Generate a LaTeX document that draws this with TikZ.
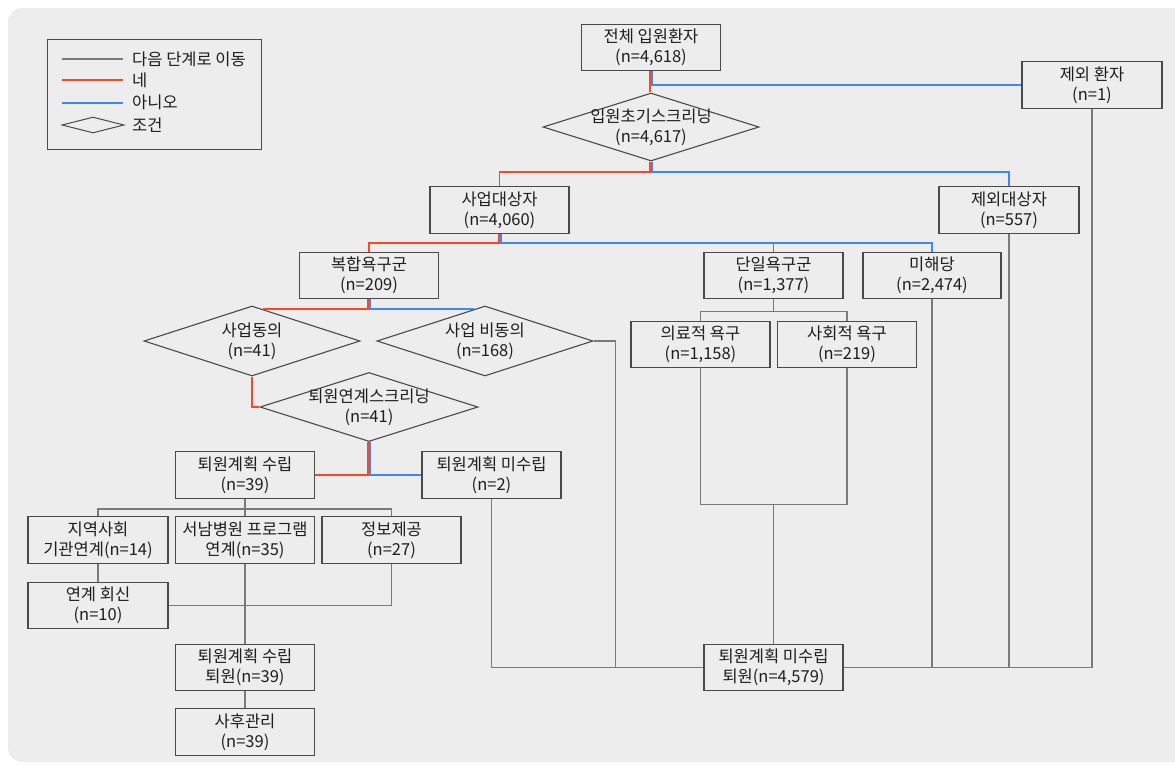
\documentclass[tikz,border=0pt]{standalone}
\usepackage{fontspec}
\setmainfont{Noto Sans CJK KR}
\usetikzlibrary{shapes.geometric,calc}
\definecolor{bg}{HTML}{EDEDED}
\definecolor{lred}{HTML}{FF4526}
\definecolor{lblue}{HTML}{3A88FF}
\definecolor{lgray}{HTML}{7A7A7A}
\definecolor{bord}{HTML}{4A4A4A}
\definecolor{txt}{HTML}{1E1E1E}
\begin{document}
\begin{tikzpicture}[x=1pt,y=-1pt,
  txtfont/.style={font=\fontsize{16.5}{20}\selectfont, text=txt},
  box/.style={draw=bord, line width=1.2pt, fill=bg, minimum width=139pt, minimum height=46.5pt, inner sep=0.5pt, align=center, txtfont},
  cond/.style={draw=bord, line width=1.1pt, fill=bg, diamond, inner sep=0pt, minimum width=216pt, minimum height=69pt},
  ctext/.style={align=center, txtfont, inner sep=0pt},
  gl/.style={draw=lgray, line width=1.4pt},
  rl/.style={draw=lred, line width=1.8pt},
  bl/.style={draw=lblue, line width=1.8pt}
]
\useasboundingbox (0,0) rectangle (1175,764);
\clip (0,0) rectangle (1175,764);
\fill[bg, rounded corners=14pt] (8,8) rectangle (1200,762);

% legend
\node[draw=bord, line width=1.1pt, minimum width=214pt, minimum height=110pt, inner sep=0pt, anchor=north west] (legend) at (47,39) {};
\draw[gl] (62,59) -- (123,59);
\draw[rl] (62,80) -- (123,80);
\draw[bl] (62,103) -- (123,103);
\node[diamond, draw=bord, line width=1pt, minimum width=62pt, minimum height=16pt, inner sep=0pt] (lgd) at (93,125) {};
\node[txtfont, anchor=west, inner sep=0pt] (lg1) at (132,59) {다음 단계로 이동};
\node[txtfont, anchor=west, inner sep=0pt] (lg2) at (132,80) {네};
\node[txtfont, anchor=west, inner sep=0pt] (lg3) at (132,102) {아니오};
\node[txtfont, anchor=west, inner sep=0pt] (lg4) at (132,125) {조건};

% nodes
\node[box] (total) at (651,47.5) {전체 입원환자\\(n=4,618)};
\node[box, minimum width=140pt] (excl1) at (1092,85) {제외 환자\\(n=1)};
\node[cond, minimum height=68pt, label={[ctext]center:{입원초기스크리닝\\(n=4,617)}}] (scr1) at (651,127) {};
\node[box] (biz) at (499.5,210) {사업대상자\\(n=4,060)};
\node[box, minimum width=140pt] (excl2) at (1009,210) {제외대상자\\(n=557)};
\node[box] (comp) at (369,275.5) {복합욕구군\\(n=209)};
\node[box] (single) at (773.5,275.5) {단일욕구군\\(n=1,377)};
\node[box, minimum width=138pt] (none) at (932,275.5) {미해당\\(n=2,474)};
\node[cond, minimum height=70pt, label={[ctext]center:{사업동의\\(n=41)}}] (agree) at (252,341) {};
\node[cond, minimum height=70pt, label={[ctext]center:{사업 비동의\\(n=168)}}] (disagree) at (485,341) {};
\node[box] (med) at (700.5,344.5) {의료적 욕구\\(n=1,158)};
\node[box] (soc) at (847,344.5) {사회적 욕구\\(n=219)};
\node[cond, minimum width=218pt, label={[ctext]center:{퇴원연계스크리닝\\(n=41)}}] (scr2) at (369,407) {};
\node[box] (plan) at (245,475) {퇴원계획 수립\\(n=39)};
\node[box] (noplan) at (491.5,475) {퇴원계획 미수립\\(n=2)};
\node[box, minimum width=140pt] (comm) at (98,540) {지역사회\\기관연계(n=14)};
\node[box] (prog) at (245,540) {서남병원 프로그램\\연계(n=35)};
\node[box] (info) at (391.5,540) {정보제공\\(n=27)};
\node[box, minimum width=140pt] (reply) at (98,605.5) {연계 회신\\(n=10)};
\node[box] (plandis) at (245,667.5) {퇴원계획 수립\\퇴원(n=39)};
\node[box] (follow) at (245,732) {사후관리\\(n=39)};
\node[box] (nodis) at (773.5,667.5) {퇴원계획 미수립\\퇴원(n=4,579)};

% rails (horizontal levels) and diamond edge points
\coordinate (r1) at (0,172);
\coordinate (r2) at (0,243);
\coordinate (r3) at (0,309);
\coordinate (agreeTop) at (intersection of agree.north--agree.east and 0,309--100,309);
\coordinate (disagreeTop) at (intersection of disagree.north--disagree.west and 0,309--100,309);

% connectors: top
\draw[rl] ([xshift=-1pt]total.south) -- ([xshift=-1pt]scr1.north);
\draw[bl] ([xshift=1pt]total.south) |- (excl1.west);
\draw[rl] ([xshift=-1pt]scr1.south) |- (r1 -| biz.north) -- (biz.north);
\draw[bl] ([xshift=1pt]scr1.south) |- (r1 -| excl2.north) -- (excl2.north);
\draw[rl] ([xshift=-0.5pt]biz.south) |- (r2 -| comp.north) -- (comp.north);
\draw[bl] ([xshift=1.5pt]biz.south) |- (r2 -| none.north) -- (none.north);
\draw[bl] (r2 -| single.north) -- (single.north);
\draw[rl] ([xshift=-1pt]comp.south) |- (agreeTop);
\draw[bl] ([xshift=1pt]comp.south) |- (disagreeTop);
\draw[rl] (agree.south) |- (scr2.west);
\draw[rl] ([xshift=-1pt]scr2.south) |- (plan.east);
\draw[bl] ([xshift=1pt]scr2.south) |- (noplan.west);

% plan branch
\draw[gl] (plan.south) -- ++(0,10) coordinate (p1) -| (comm.north);
\draw[gl] (p1) -| (info.north);
\draw[gl] (p1) -- (prog.north);
\draw[gl] (comm.south) -- (reply.north);
\draw[gl] (info.south) |- (reply.east);
\draw[gl] (prog.south) -- (plandis.north);
\draw[gl] (plandis.south) -- (follow.north);

% single needs branch
\draw[gl] (single.south) -- ++(0,12) coordinate (s1) -| (med.north);
\draw[gl] (s1) -| (soc.north);
\draw[gl] (med.south) -- ++(0,136) coordinate (m1) -- (m1 -| soc.south) -- (soc.south);
\draw[gl] (m1 -| nodis.north) -- (nodis.north);

% to final
\draw[gl] (disagree.east) -- ++(22,0) |- (nodis.west);
\draw[gl] (noplan.south) |- (nodis.west);
\draw[gl] (none.south) |- (nodis.east);
\draw[gl] (excl2.south) |- (nodis.east);
\draw[gl] (excl1.south) |- (nodis.east);
\end{tikzpicture}
\end{document}
